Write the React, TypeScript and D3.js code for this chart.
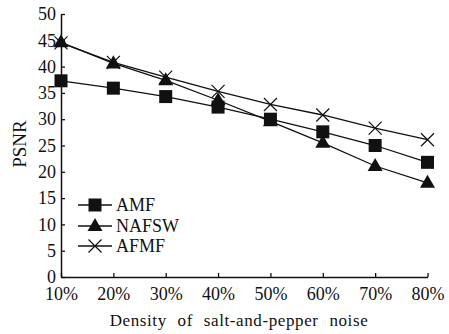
import React, { useEffect, useRef } from 'react';
import * as d3 from 'd3';

const densities = ['10%', '20%', '30%', '40%', '50%', '60%', '70%', '80%'];
const amf = [37.3, 35.9, 34.3, 32.3, 30.0, 27.6, 25.0, 21.8];
const nafsw = [44.6, 40.6, 37.4, 33.6, 29.6, 25.5, 21.1, 17.9];
const afmf = [44.5, 40.8, 38.0, 35.3, 32.8, 30.8, 28.3, 26.1];
const yTicks = [0, 5, 10, 15, 20, 25, 30, 35, 40, 45, 50];

const seriesNames = ['AMF', 'NAFSW', 'AFMF'];
const seriesValues = [amf, nafsw, afmf];
const seriesMarkers = ['square', 'triangle', 'cross'];

const FONT = 'Liberation Serif, DejaVu Serif, serif';

const App = () => {
  const svgRef = useRef<SVGSVGElement>(null);

  useEffect(() => {
    const svg = d3.select(svgRef.current);
    svg.selectAll('*').remove();

    const x = d3.scalePoint()
      .domain(densities)
      .range([61, 427.5]);

    const y = d3.scaleLinear()
      .domain([0, 50])
      .range([277, 14]);

    const g = svg.append('g');

    // draw a marker at (cx, cy)
    const marker = (sel, type, cx, cy) => {
      if (type === 'square') {
        sel.append('rect')
          .attr('x', cx - 6.5).attr('y', cy - 6.5)
          .attr('width', 13).attr('height', 13)
          .attr('fill', '#111');
      } else if (type === 'triangle') {
        const s = 15;
        const h = s * 0.87;
        sel.append('path')
          .attr('d', `M${cx},${cy - h * 0.62}L${cx + s / 2},${cy + h * 0.38}L${cx - s / 2},${cy + h * 0.38}Z`)
          .attr('fill', '#111');
      } else {
        const r = 6.5;
        sel.append('path')
          .attr('d', `M${cx - r},${cy - r}L${cx + r},${cy + r}M${cx - r},${cy + r}L${cx + r},${cy - r}`)
          .attr('stroke', '#111')
          .attr('stroke-width', 1.2)
          .attr('fill', 'none');
      }
    };

    // Lines
    const line = d3.line<number>()
      .x((d, i) => x(densities[i]))
      .y(d => y(d));

    seriesValues.forEach((vals, si) => {
      g.append('path')
        .datum(vals)
        .attr('d', line)
        .attr('fill', 'none')
        .attr('stroke', '#111')
        .attr('stroke-width', 1.3);
      vals.forEach((v, i) => marker(g, seriesMarkers[si], x(densities[i]), y(v)));
    });

    // Axes (ticks point inward)
    const xAxis = g.append('g')
      .attr('transform', `translate(0, ${y(0)})`)
      .call(d3.axisBottom(x).tickSizeInner(-4).tickSizeOuter(0).tickPadding(10));
    xAxis.attr('font-family', FONT).attr('font-size', 18);
    xAxis.select('.domain').attr('stroke', '#111').attr('stroke-width', 1.5);
    xAxis.selectAll('line').attr('stroke', '#111').attr('stroke-width', 1.3);
    xAxis.selectAll('text').attr('fill', '#111');

    const yAxis = g.append('g')
      .attr('transform', `translate(${x('10%')},0)`)
      .call(d3.axisLeft(y).tickValues(yTicks).tickSizeInner(-4).tickSizeOuter(0).tickPadding(5));
    yAxis.attr('font-family', FONT).attr('font-size', 18);
    yAxis.select('.domain').attr('stroke', '#111').attr('stroke-width', 1.5);
    yAxis.selectAll('line').attr('stroke', '#111').attr('stroke-width', 1.3);
    yAxis.selectAll('text').attr('fill', '#111');

    // Axis titles
    g.append('text')
      .attr('x', 239)
      .attr('y', 326)
      .attr('text-anchor', 'middle')
      .attr('font-family', FONT)
      .attr('font-size', 17)
      .attr('fill', '#111')
      .attr('letter-spacing', '0.6px')
      .attr('word-spacing', '6px')
      .text('Density of salt-and-pepper noise');

    g.append('text')
      .attr('transform', 'translate(26, 144) rotate(-90)')
      .attr('text-anchor', 'middle')
      .attr('font-family', FONT)
      .attr('font-size', 19)
      .attr('fill', '#111')
      .text('PSNR');

    // Legend
    const legendY = [205, 226, 246];
    seriesNames.forEach((name, i) => {
      const ly = legendY[i];
      g.append('line')
        .attr('x1', 78).attr('x2', 112)
        .attr('y1', ly).attr('y2', ly)
        .attr('stroke', '#111')
        .attr('stroke-width', 1.3);
      marker(g, seriesMarkers[i], 95, ly);
      g.append('text')
        .attr('x', 116)
        .attr('y', ly + 6)
        .attr('font-family', FONT)
        .attr('font-size', 18)
        .attr('fill', '#111')
        .text(name);
    });
  }, []);

  return (
    <svg
      ref={svgRef}
      width={449}
      height={334}
      style={{ position: 'absolute', left: 0, top: 0, background: '#fff', fontFamily: FONT }}
    />
  );
};

export default App;
